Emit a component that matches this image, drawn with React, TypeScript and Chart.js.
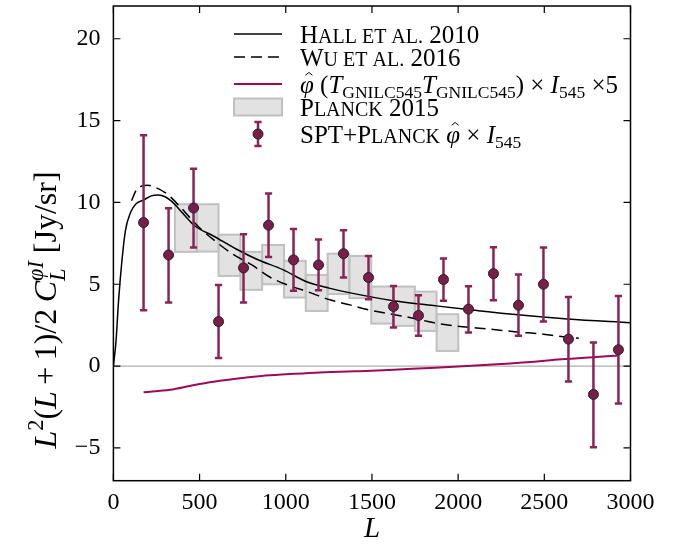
import React, { useEffect, useRef } from 'react';
import { Chart, registerables } from 'chart.js';
Chart.register(...registerables);

const X_TICKS = [0, 500, 1000, 1500, 2000, 2500, 3000];
const Y_TICKS = [-5, 0, 5, 10, 15, 20];

const HALL_L = [0, 15, 30, 50, 70, 100, 130, 175, 220, 260, 300, 340, 380, 425, 473, 580, 715, 832, 986, 1121, 1257, 1367, 1624, 1872, 2056, 2300, 2634, 3000];
const HALL_V = [0, 1.5, 4.0, 6.5, 8.3, 9.4, 9.9, 10.15, 10.4, 10.45, 10.35, 10.05, 9.6, 9.07, 8.56, 7.95, 7.14, 6.53, 5.88, 5.15, 4.75, 4.49, 4.0, 3.68, 3.46, 3.18, 2.88, 2.65];

const WU_L = [105, 135, 165, 200, 235, 300, 340, 390, 445, 500, 595, 694, 803, 909, 1019, 1112, 1256, 1372, 1489, 1605, 1739, 1855, 1982, 2185, 2340, 2495, 2611, 2700];
const WU_V = [10.1, 10.8, 11.0, 11.05, 10.95, 10.6, 10.25, 9.7, 9.05, 8.45, 7.6, 6.83, 6.18, 5.43, 4.92, 4.6, 4.05, 3.74, 3.42, 3.19, 2.93, 2.66, 2.46, 2.26, 2.09, 1.95, 1.79, 1.7];

const CROSS_L = [175, 330, 450, 550, 700, 860, 1000, 1170, 1400, 1600, 1800, 2000, 2200, 2400, 2600, 2800, 2930];
const CROSS_V = [-1.6, -1.45, -1.2, -1.0, -0.78, -0.6, -0.5, -0.4, -0.32, -0.24, -0.13, -0.02, 0.1, 0.23, 0.42, 0.56, 0.65];

const PLANCK_EDGES = [357, 484, 610, 737, 863, 990, 1116, 1243, 1369, 1496, 1622, 1749, 1875, 2001];
const PLANCK_LO = [6.98, 7.0, 5.51, 4.66, 5.0, 4.19, 3.37, 4.4, 4.15, 2.6, 2.46, 2.15, 0.93];
const PLANCK_HI = [9.89, 9.89, 8.03, 6.98, 7.4, 6.43, 5.57, 6.87, 6.73, 4.86, 4.86, 4.55, 3.17];

const SPT_L = [175, 320, 465, 610, 755, 900, 1045, 1190, 1335, 1480, 1625, 1770, 1915, 2060, 2205, 2350, 2495, 2640, 2785, 2930];
const SPT_V = [8.77, 6.79, 9.66, 2.72, 6.0, 8.61, 6.49, 6.18, 6.87, 5.41, 3.64, 3.09, 5.29, 3.48, 5.65, 3.72, 5.0, 1.65, -1.73, 1.0];
const SPT_HI = [14.1, 9.65, 12.06, 4.96, 8.06, 10.54, 8.38, 7.73, 8.3, 6.72, 4.9, 4.33, 6.57, 4.88, 7.26, 5.59, 7.24, 4.23, 1.44, 4.29];
const SPT_LO = [3.42, 3.88, 7.24, 0.5, 3.88, 6.67, 4.6, 4.64, 5.41, 4.09, 2.36, 1.85, 3.99, 2.05, 4.03, 1.85, 2.72, -0.94, -4.95, -2.28];

const FONT = '"Liberation Serif", "Times New Roman", serif';
const MAGENTA = '#9e0a5a';
const ERR = '#8a2456';
const PT_FILL = '#7a1d4a';
const BOX_FILL = '#e2e2e2';
const BOX_EDGE = '#c0c0c0';

type Seg = { t: string; s?: number; it?: boolean; dy?: number; hat?: boolean; noAdv?: boolean };

function fontFor(size: number, it?: boolean) {
  return `${it ? 'italic ' : ''}${size}px ${FONT}`;
}

function drawRich(ctx: CanvasRenderingContext2D, segs: Seg[], x: number, y: number, base: number, align: 'left' | 'center') {
  let w = 0;
  for (const sg of segs) {
    ctx.font = fontFor(base * (sg.s ?? 1), sg.it);
    if (!sg.noAdv) w += ctx.measureText(sg.t).width;
  }
  let cx = align === 'center' ? x - w / 2 : x;
  ctx.textAlign = 'left';
  ctx.textBaseline = 'alphabetic';
  for (const sg of segs) {
    const size = base * (sg.s ?? 1);
    ctx.font = fontFor(size, sg.it);
    const mw = ctx.measureText(sg.t).width;
    const yy = y + (sg.dy ?? 0) * base;
    ctx.fillText(sg.t, cx, yy);
    if (sg.hat) {
      const hx = cx + mw / 2 + size * 0.08;
      const hy = yy - size * 0.78;
      ctx.save();
      ctx.strokeStyle = ctx.fillStyle as string;
      ctx.lineWidth = 1;
      ctx.beginPath();
      ctx.moveTo(hx - size * 0.14, hy + size * 0.09);
      ctx.lineTo(hx, hy - size * 0.02);
      ctx.lineTo(hx + size * 0.14, hy + size * 0.09);
      ctx.stroke();
      ctx.restore();
    }
    if (!sg.noAdv) cx += mw;
  }
  return w;
}

const customPlugin = {
  id: 'custom',
  beforeDatasetsDraw(chart: any) {
    const { ctx, chartArea: a, scales } = chart;
    const x = scales.x, y = scales.y;
    ctx.save();
    ctx.strokeStyle = '#9a9a9a';
    ctx.lineWidth = 1;
    const y0 = y.getPixelForValue(0);
    ctx.beginPath();
    ctx.moveTo(a.left, y0);
    ctx.lineTo(a.right, y0);
    ctx.stroke();
    ctx.fillStyle = BOX_FILL;
    ctx.strokeStyle = BOX_EDGE;
    ctx.lineWidth = 2;
    for (let i = 0; i < PLANCK_LO.length; i++) {
      const x0 = x.getPixelForValue(PLANCK_EDGES[i]);
      const x1 = x.getPixelForValue(PLANCK_EDGES[i + 1]);
      const yt = y.getPixelForValue(PLANCK_HI[i]);
      const yb = y.getPixelForValue(PLANCK_LO[i]);
      ctx.fillRect(x0, yt, x1 - x0, yb - yt);
    }
    for (let i = 0; i < PLANCK_LO.length; i++) {
      const x0 = x.getPixelForValue(PLANCK_EDGES[i]);
      const x1 = x.getPixelForValue(PLANCK_EDGES[i + 1]);
      const yt = y.getPixelForValue(PLANCK_HI[i]);
      const yb = y.getPixelForValue(PLANCK_LO[i]);
      ctx.strokeRect(x0, yt, x1 - x0, yb - yt);
    }
    ctx.restore();
  },
  beforeDatasetDraw(chart: any, args: any) {
    if (args.index !== 0) return;
    const { ctx, scales } = chart;
    const x = scales.x, y = scales.y;
    ctx.save();
    ctx.strokeStyle = ERR;
    ctx.lineWidth = 2.5;
    for (let i = 0; i < SPT_L.length; i++) {
      const px = x.getPixelForValue(SPT_L[i]);
      const yt = y.getPixelForValue(SPT_HI[i]);
      const yb = y.getPixelForValue(SPT_LO[i]);
      ctx.beginPath();
      ctx.moveTo(px, yt);
      ctx.lineTo(px, yb);
      ctx.moveTo(px - 3.6, yt);
      ctx.lineTo(px + 3.6, yt);
      ctx.moveTo(px - 3.6, yb);
      ctx.lineTo(px + 3.6, yb);
      ctx.stroke();
    }
    ctx.restore();
  },
  afterDraw(chart: any) {
    const { ctx, chartArea: a, scales } = chart;
    const x = scales.x, y = scales.y;
    ctx.save();
    // frame
    ctx.strokeStyle = '#000';
    ctx.lineWidth = 1.5;
    ctx.strokeRect(a.left, a.top, a.right - a.left, a.bottom - a.top);
    ctx.lineWidth = 1.2;
    ctx.beginPath();
    for (const v of X_TICKS) {
      const px = x.getPixelForValue(v);
      ctx.moveTo(px, a.bottom);
      ctx.lineTo(px, a.bottom - 7);
      ctx.moveTo(px, a.top);
      ctx.lineTo(px, a.top + 7);
    }
    for (const v of Y_TICKS) {
      const py = y.getPixelForValue(v);
      ctx.moveTo(a.left, py);
      ctx.lineTo(a.left + 7, py);
      ctx.moveTo(a.right, py);
      ctx.lineTo(a.right - 7, py);
    }
    ctx.stroke();

    // axis titles
    ctx.fillStyle = '#000';
    drawRich(ctx, [{ t: 'L', it: true }], (a.left + a.right) / 2, 537, 29, 'center');
    ctx.save();
    ctx.translate(45, 310);
    ctx.rotate(-Math.PI / 2);
    drawRich(ctx, [
      { t: 'L', it: true },
      { t: '2', s: 0.7, dy: -0.4 },
      { t: '(' },
      { t: 'L', it: true },
      { t: '\u2009+\u20091)/2\u2009' },
      { t: 'C', it: true },
      { t: 'L', it: true, s: 0.7, dy: 0.28, noAdv: true },
      { t: 'φI', it: true, s: 0.7, dy: -0.42 },
      { t: ' [Jy/sr]' },
    ], 0, 11, 32, 'center');
    ctx.restore();

    // legend
    const rows = [34, 57, 84, 107, 134];
    const hx0 = 234, hx1 = 282, tx = 300, base = 25, sc = 0.8;
    ctx.lineWidth = 1.5;
    ctx.strokeStyle = '#000';
    ctx.beginPath(); ctx.moveTo(hx0, rows[0]); ctx.lineTo(hx1, rows[0]); ctx.stroke();
    ctx.setLineDash([11, 6]);
    ctx.beginPath(); ctx.moveTo(hx0, rows[1]); ctx.lineTo(hx1, rows[1]); ctx.stroke();
    ctx.setLineDash([]);
    ctx.strokeStyle = MAGENTA;
    ctx.lineWidth = 2;
    ctx.beginPath(); ctx.moveTo(hx0, rows[2]); ctx.lineTo(hx1, rows[2]); ctx.stroke();
    ctx.fillStyle = BOX_FILL;
    ctx.strokeStyle = BOX_EDGE;
    ctx.fillRect(hx0, rows[3] - 8.5, hx1 - hx0, 17);
    ctx.strokeRect(hx0, rows[3] - 8.5, hx1 - hx0, 17);
    const mx = (hx0 + hx1) / 2;
    ctx.strokeStyle = ERR;
    ctx.lineWidth = 2.5;
    ctx.beginPath();
    ctx.moveTo(mx, rows[4] - 12); ctx.lineTo(mx, rows[4] + 12);
    ctx.moveTo(mx - 3.6, rows[4] - 12); ctx.lineTo(mx + 3.6, rows[4] - 12);
    ctx.moveTo(mx - 3.6, rows[4] + 12); ctx.lineTo(mx + 3.6, rows[4] + 12);
    ctx.stroke();
    ctx.fillStyle = PT_FILL;
    ctx.strokeStyle = '#222';
    ctx.lineWidth = 1;
    ctx.beginPath(); ctx.arc(mx, rows[4], 5, 0, Math.PI * 2); ctx.fill(); ctx.stroke();

    ctx.fillStyle = '#000';
    const off = 8.5;
    drawRich(ctx, [{ t: 'H' }, { t: 'ALL ET AL.', s: sc }, { t: ' 2010' }], tx, rows[0] + off, base, 'left');
    drawRich(ctx, [{ t: 'W' }, { t: 'U ET AL.', s: sc }, { t: ' 2016' }], tx, rows[1] + off, base, 'left');
    drawRich(ctx, [
      { t: 'φ', it: true, hat: true }, { t: ' (' }, { t: 'T', it: true }, { t: 'GNILC545', s: 0.7, dy: 0.22 },
      { t: 'T', it: true }, { t: 'GNILC545', s: 0.7, dy: 0.22 }, { t: ') × ' }, { t: 'I', it: true },
      { t: '545', s: 0.7, dy: 0.22 }, { t: ' ×5' },
    ], tx, rows[2] + off, base, 'left');
    drawRich(ctx, [{ t: 'P' }, { t: 'LANCK', s: sc }, { t: ' 2015' }], tx, rows[3] + off, base, 'left');
    drawRich(ctx, [
      { t: 'SPT+P' }, { t: 'LANCK', s: sc }, { t: ' ' }, { t: 'φ', it: true, hat: true }, { t: ' × ' },
      { t: 'I', it: true }, { t: '545', s: 0.7, dy: 0.22 },
    ], tx, rows[4] + off, base, 'left');
    ctx.restore();
  },
};

function pts(xs: number[], ys: number[]) {
  return xs.map((v, i) => ({ x: v, y: ys[i] }));
}

export default function App() {
  const ref = useRef<HTMLCanvasElement>(null);
  useEffect(() => {
    const tickFont = { family: FONT, size: 24 };
    const chart = new Chart(ref.current as HTMLCanvasElement, {
      type: 'scatter',
      data: {
        datasets: [
          {
            label: 'SPT+Planck',
            data: pts(SPT_L, SPT_V),
            pointRadius: 5,
            pointBackgroundColor: PT_FILL,
            pointBorderColor: '#222',
            pointBorderWidth: 1,
            showLine: false,
          } as any,
          {
            label: 'Hall et al. 2010',
            data: pts(HALL_L, HALL_V),
            showLine: true,
            borderColor: '#000',
            borderWidth: 1.5,
            pointRadius: 0,
            cubicInterpolationMode: 'monotone',
          },
          {
            label: 'Wu et al. 2016',
            data: pts(WU_L, WU_V),
            showLine: true,
            borderColor: '#000',
            borderWidth: 1.5,
            borderDash: [11, 6],
            pointRadius: 0,
            cubicInterpolationMode: 'monotone',
          },
          {
            label: 'cross',
            data: pts(CROSS_L, CROSS_V),
            showLine: true,
            borderColor: MAGENTA,
            borderWidth: 2,
            pointRadius: 0,
            cubicInterpolationMode: 'monotone',
          },
        ],
      },
      options: {
        responsive: false,
        animation: false,
        devicePixelRatio: 1,
        layout: { padding: { left: 0, top: 4, right: 58.5, bottom: 0 } },
        plugins: { legend: { display: false }, tooltip: { enabled: false } },
        scales: {
          x: {
            type: 'linear',
            min: 0,
            max: 3000,
            afterBuildTicks: (s: any) => { s.ticks = X_TICKS.map((v) => ({ value: v })); },
            afterFit: (s: any) => { s.height = 67.3; s.paddingLeft = 0; s.paddingRight = 0; },
            grid: { display: false, drawTicks: false },
            border: { display: false },
            ticks: {
              font: tickFont, color: '#000', padding: 8, maxRotation: 0, autoSkip: false,
              callback: (v: any) => String(v),
            },
          },
          y: {
            type: 'linear',
            min: -7,
            max: 22,
            afterBuildTicks: (s: any) => { s.ticks = Y_TICKS.map((v) => ({ value: v })); },
            afterFit: (s: any) => { s.width = 113.4; s.paddingTop = 0; s.paddingBottom = 0; },
            grid: { display: false, drawTicks: false },
            border: { display: false },
            ticks: {
              font: tickFont,
              color: '#000',
              padding: 13,
              autoSkip: false,
              callback: (v: any) => (Number(v) < 0 ? '−' + Math.abs(Number(v)) : String(v)),
            },
          },
        },
      } as any,
      plugins: [customPlugin],
    });
    return () => chart.destroy();
  }, []);
  return (
    <div style={{ position: 'absolute', left: 0, top: 0, width: 689, height: 548, background: '#fff' }}>
      <canvas ref={ref} width={689} height={548} style={{ width: 689, height: 548 }} />
    </div>
  );
}
